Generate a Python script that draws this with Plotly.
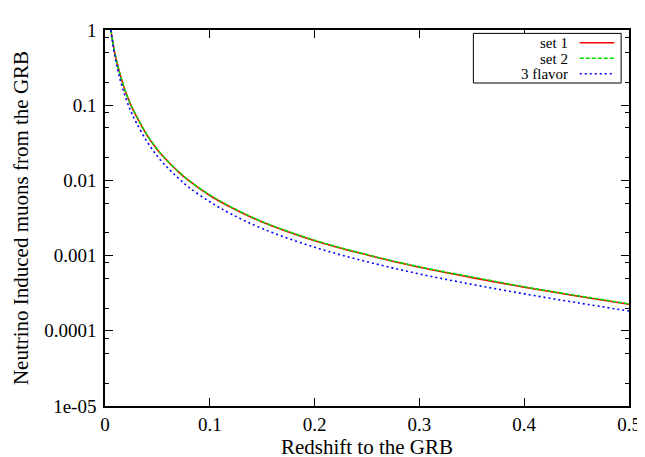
import plotly.graph_objects as go

# ---- data ----
redshift = [0.0056, 0.007, 0.009, 0.012, 0.015, 0.02, 0.025, 0.03, 0.04, 0.05,
            0.06, 0.07, 0.08, 0.1, 0.12, 0.15, 0.2, 0.25, 0.3, 0.35, 0.4, 0.45, 0.5]
set1 = [1.0, 0.75, 0.52, 0.34, 0.24, 0.145, 0.098, 0.071, 0.040, 0.0255,
        0.0178, 0.0130, 0.0099, 0.0063, 0.0044, 0.0028, 0.00158, 0.00102,
        0.00070, 0.00051, 0.00038, 0.00029, 0.000225]
set2 = [1.0, 0.75, 0.52, 0.34, 0.24, 0.146, 0.099, 0.072, 0.0405, 0.0258,
        0.0180, 0.0131, 0.0100, 0.0064, 0.00445, 0.00283, 0.00160, 0.00103,
        0.00071, 0.00052, 0.000385, 0.000295, 0.000228]
flavor3 = [1.0, 0.73, 0.485, 0.30, 0.205, 0.122, 0.081, 0.058, 0.033, 0.0209,
           0.0146, 0.0107, 0.0081, 0.0052, 0.0036, 0.00229, 0.00129, 0.00083,
           0.00057, 0.000415, 0.00031, 0.000237, 0.000183]

series_names = ["set 1", "set 2", "3 flavor"]
series_colors = ["#ff0000", "#00dd00", "#0000ff"]
series_dash = ["solid", "4px,2px", "2px,3px"]

x_ticks = [0, 0.1, 0.2, 0.3, 0.4, 0.5]
x_ticklabels = ["0", "0.1", "0.2", "0.3", "0.4", "0.5"]
y_ticks = [1e-5, 1e-4, 1e-3, 1e-2, 1e-1, 1]
y_ticklabels = ["1e-05", "0.0001", "0.001", "0.01", "0.1", "1"]
y_minor = [m * 10 ** e for e in range(-5, 0) for m in (2, 5, 8)]

FONT = "Liberation Serif, Times New Roman, serif"

fig = go.Figure()
for name, ys, col, dash in zip(series_names, [set1, set2, flavor3], series_colors, series_dash):
    fig.add_trace(go.Scatter(x=redshift, y=ys, mode="lines", name=name,
                             line=dict(color=col, width=1.6, dash=dash, shape="spline"),
                             showlegend=False))

# gnuplot-style key (text right-aligned, sample line on the right)
plot_h = 388.0
row_h = 16.0 / plot_h
key_left, key_right, key_top = 0.703, 0.985, 0.991
shapes = [dict(type="rect", xref="paper", yref="paper", x0=key_left, x1=key_right,
               y0=key_top - 3.2 * row_h, y1=key_top, line=dict(color="black", width=1),
               fillcolor="white", layer="above")]
annotations = []
for i, (name, col, dash) in enumerate(zip(series_names, series_colors, series_dash)):
    yc = key_top - (i + 0.6) * row_h
    shapes.append(dict(type="line", xref="paper", yref="paper", x0=0.906, x1=0.972,
                       y0=yc, y1=yc, line=dict(color=col, width=1.6, dash=dash), layer="above"))
    annotations.append(dict(xref="paper", yref="paper", x=0.888, y=yc, text=name,
                            showarrow=False, xanchor="right", yanchor="middle",
                            font=dict(family=FONT, size=15, color="black"),
                            height=15, valign="middle"))

axis_common = dict(showline=True, linecolor="black", linewidth=1.5, mirror="allticks",
                   ticks="inside", ticklen=8, tickwidth=1, tickcolor="black",
                   showgrid=False, zeroline=False,
                   tickfont=dict(family=FONT, size=19, color="black"))

fig.update_layout(
    width=645, height=457,
    margin=dict(l=96, r=12, t=12, b=57),
    paper_bgcolor="white", plot_bgcolor="white",
    font=dict(family=FONT, color="black"),
    shapes=shapes, annotations=annotations,
    xaxis=dict(range=[0, 0.5], tickvals=x_ticks, ticktext=x_ticklabels,
               title=dict(text="Redshift to the GRB", standoff=4,
                          font=dict(family=FONT, size=21, color="black")),
               **axis_common),
    yaxis=dict(type="log", range=[-5, 0], tickvals=y_ticks, ticktext=y_ticklabels,
               ticklabelstandoff=3,
               minor=dict(tickvals=y_minor, ticks="inside", ticklen=4, tickcolor="black"),
               title=dict(text="Neutrino Induced muons from the GRB", standoff=10,
                          font=dict(family=FONT, size=21, color="black")),
               **axis_common),
)

fig.write_html("out.html")
